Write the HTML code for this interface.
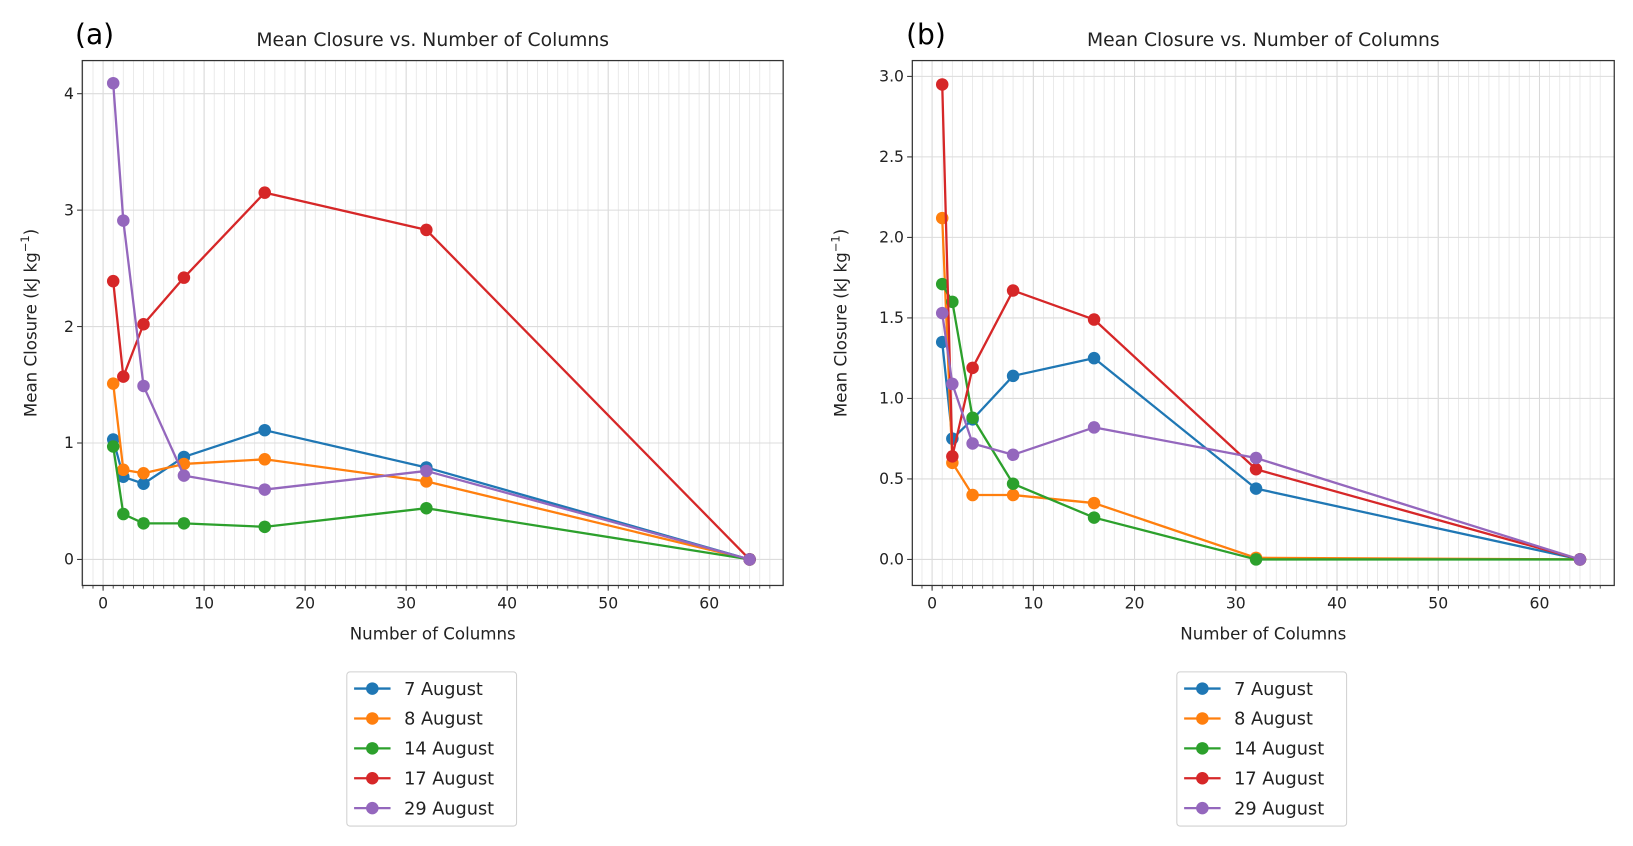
<!DOCTYPE html>
<html><head><meta charset="utf-8"><style>
html,body{margin:0;padding:0;background:#fff;}
svg{display:block;font-family:"DejaVu Sans","Liberation Sans",sans-serif;}
</style></head><body>
<svg id="fig" width="1633" height="846" viewBox="0 0 1568 812" xmlns="http://www.w3.org/2000/svg"></svg>
<script>
const xValues = [1, 2, 4, 8, 16, 32, 64];
const seriesNames = ["7 August", "8 August", "14 August", "17 August", "29 August"];
const colors = ["#1f77b4", "#ff7f0e", "#2ca02c", "#d62728", "#9467bd"];
const xTicks = [0, 10, 20, 30, 40, 50, 60];
const yTicksA = [0, 1, 2, 3, 4];
const yTickLabelsA = ["0", "1", "2", "3", "4"];
const yTicksB = [0, 0.5, 1.0, 1.5, 2.0, 2.5, 3.0];
const yTickLabelsB = ["0.0", "0.5", "1.0", "1.5", "2.0", "2.5", "3.0"];
const a7 = [1.03, 0.71, 0.65, 0.88, 1.11, 0.79, 0];
const a8 = [1.51, 0.77, 0.74, 0.82, 0.86, 0.67, 0];
const a14 = [0.97, 0.39, 0.31, 0.31, 0.28, 0.44, 0];
const a17 = [2.39, 1.57, 2.02, 2.42, 3.15, 2.83, 0];
const a29 = [4.09, 2.91, 1.49, 0.72, 0.60, 0.76, 0];
const b7 = [1.35, 0.75, 0.87, 1.14, 1.25, 0.44, 0];
const b8 = [2.12, 0.60, 0.40, 0.40, 0.35, 0.01, 0];
const b14 = [1.71, 1.60, 0.88, 0.47, 0.26, 0.0, 0];
const b17 = [2.95, 0.64, 1.19, 1.67, 1.49, 0.56, 0];
const b29 = [1.53, 1.09, 0.72, 0.65, 0.82, 0.63, 0];

const NS = "http://www.w3.org/2000/svg";
const svg = document.getElementById("fig");
function el(tag, attrs, parent, text) {
  const e = document.createElementNS(NS, tag);
  for (const k in attrs) e.setAttribute(k, attrs[k]);
  if (text !== undefined) e.textContent = text;
  (parent || svg).appendChild(e);
  return e;
}

function panel(cfg) {
  const g = el("g", {});
  
  
  const L = cfg.left, R = cfg.right, T = 58, B = 562;
  const sx = v => cfg.x0 + v * cfg.xs;
  const sy = v => cfg.y0 - v * cfg.ys;
  for (let v = -2; v <= 66; v++) {
    const x = sx(v);
    if (x <= L || x >= R) continue;
    const ln = el("line", {x1: x, x2: x, y1: T, y2: B, stroke: "#e6e6e6", "stroke-width": 0.8}, g);
    
    
    const tk = el("line", {x1: x, x2: x, y1: B, y2: B + 3, stroke: "#333", "stroke-width": 0.8}, g);
    
    
  }
  xTicks.forEach(v => {
    const x = sx(v);
    const ln = el("line", {x1: x, x2: x, y1: T, y2: B, stroke: "#d9d9d9", "stroke-width": 1}, g);
    
    
    const tk = el("line", {x1: x, x2: x, y1: B, y2: B + 5, stroke: "#333", "stroke-width": 1}, g);
    
    
    const t = el("text", {x: x, y: B + 22, "text-anchor": "middle", "font-size": 15, fill: "#222"}, g, String(v));
    
    
  });
  cfg.yTicks.forEach((v, i) => {
    const y = sy(v);
    const ln = el("line", {x1: L, x2: R, y1: y, y2: y, stroke: "#dcdcdc", "stroke-width": 1}, g);
    
    
    const tk = el("line", {x1: L - 5, x2: L, y1: y, y2: y, stroke: "#333", "stroke-width": 1}, g);
    
    
    const t = el("text", {x: L - 8, y: y + 5, "text-anchor": "end", "font-size": 15, fill: "#222"}, g, cfg.yLabels[i]);
    
    
  });
  const fr = el("rect", {x: L, y: T, width: R - L, height: B - T, fill: "none", stroke: "#333", "stroke-width": 1.2}, g);
  
  
  cfg.series.forEach((vals, si) => {
    const pts = vals.map((v, i) => sx(xValues[i]) + "," + sy(v)).join(" ");
    const pl = el("polyline", {points: pts, fill: "none", stroke: colors[si], "stroke-width": 2.2, "stroke-linejoin": "round"}, g);
    
    
    vals.forEach((v, i) => {
      const c = el("circle", {cx: sx(xValues[i]), cy: sy(v), r: 6, fill: colors[si]}, g);
      
      
    });
  });
  const cx = (L + R) / 2;
  const ti = el("text", {x: cx, y: 44, "text-anchor": "middle", "font-size": 18, fill: "#222"}, g, "Mean Closure vs. Number of Columns");
  
  
  const xl = el("text", {x: cx, y: 614, "text-anchor": "middle", "font-size": 16, fill: "#222"}, g, "Number of Columns");
  
  
  const yl = el("text", {x: 0, y: 0, "text-anchor": "middle", "font-size": 16, fill: "#222", transform: "translate(" + cfg.ylx + ",310) rotate(-90)"}, g);
  
  
  el("tspan", {}, yl, "Mean Closure (kJ kg");
  el("tspan", {dy: -7, "font-size": 11}, yl, "−1");
  el("tspan", {dy: 7}, yl, ")");
  const pl = el("text", {x: cfg.labelX, y: 42, "font-size": 27, fill: "#000"}, g, cfg.label);
  
  
  const lg = el("g", {}, g);
  
  
  const lx = cfg.legX;
  el("rect", {x: lx, y: 645, width: 163, height: 148, rx: 3, fill: "#fff", stroke: "#d0d0d0", "stroke-width": 1}, lg);
  seriesNames.forEach((n, i) => {
    const y = 661 + i * 28.7;
    const en = el("g", {}, lg);
    
    
    el("line", {x1: lx + 7, x2: lx + 42, y1: y, y2: y, stroke: colors[i], "stroke-width": 2.2}, en);
    el("circle", {cx: lx + 24.5, cy: y, r: 6, fill: colors[i]}, en);
    el("text", {x: lx + 55, y: y + 6, "font-size": 17, fill: "#222"}, en, n);
  });
}

panel({name: "panel-a", left: 79, right: 752, x0: 99, xs: 9.7, y0: 537, ys: 111.8,
  yTicks: yTicksA, yLabels: yTickLabelsA, series: [a7, a8, a14, a17, a29],
  ylx: 35, labelX: 72, label: "(a)", legX: 333});
panel({name: "panel-b", left: 876, right: 1550, x0: 895, xs: 9.72, y0: 537, ys: 154.6,
  yTicks: yTicksB, yLabels: yTickLabelsB, series: [b7, b8, b14, b17, b29],
  ylx: 813, labelX: 870, label: "(b)", legX: 1130});
</script>
</body></html>
